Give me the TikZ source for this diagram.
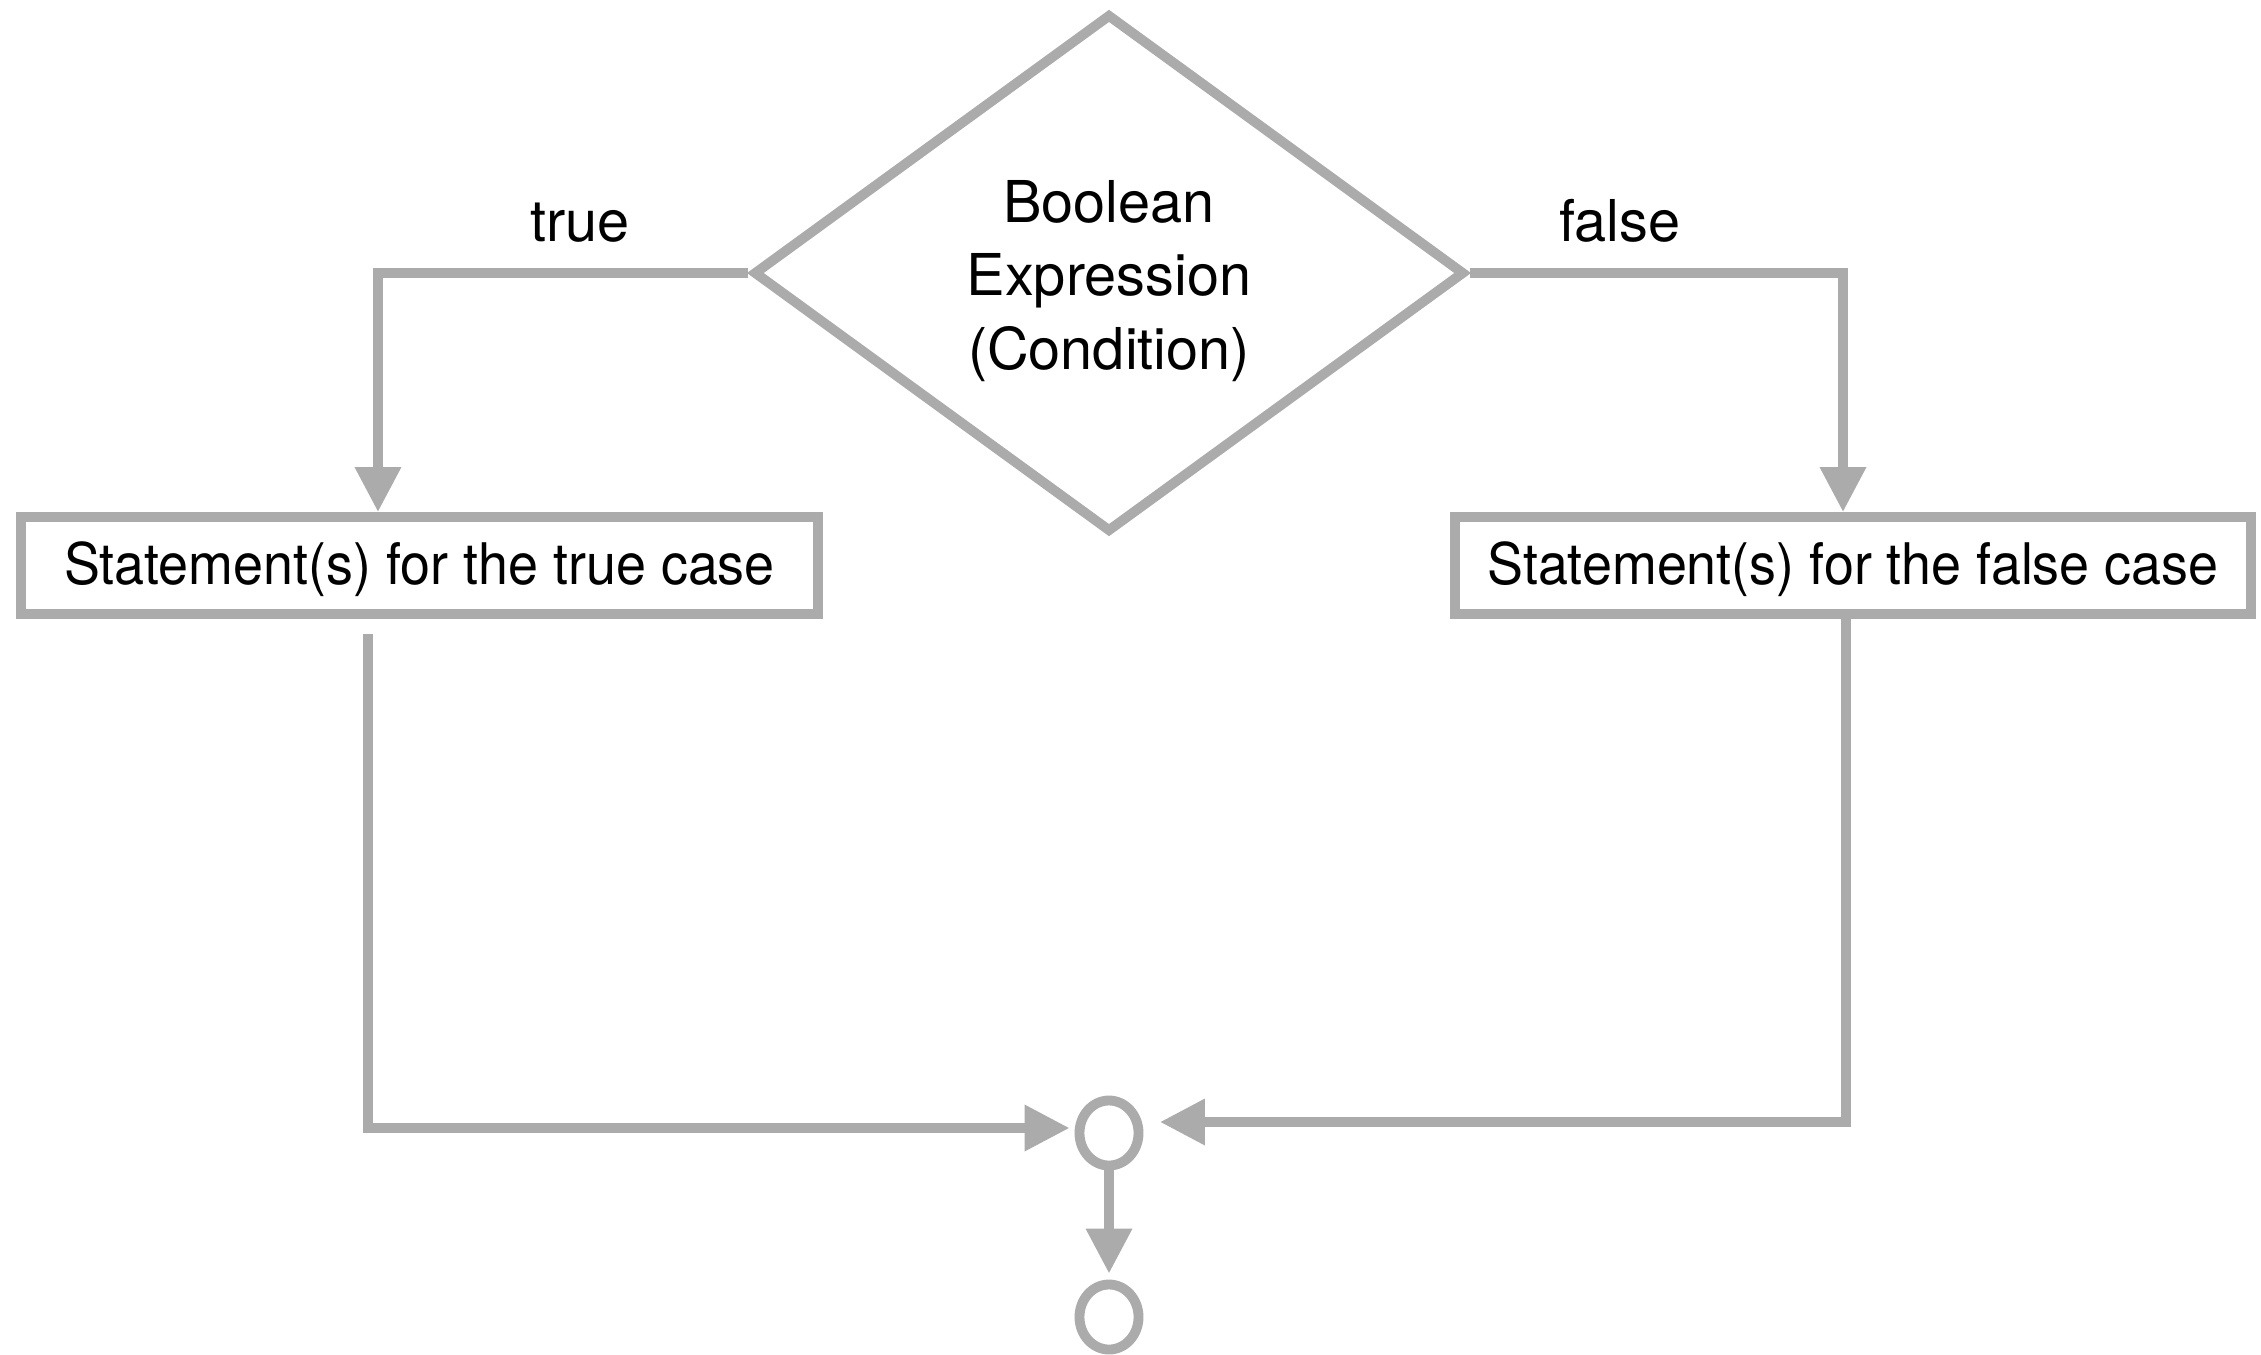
\documentclass[tikz,border=0pt]{standalone}
\usepackage{fontspec}
\setmainfont{TeX Gyre Heros}
\newfontfamily\boxfont[FakeStretch=0.94]{TeX Gyre Heros}
\usetikzlibrary{arrows.meta,shapes.geometric}
\definecolor{flowgray}{HTML}{ABABAB}
\begin{document}
\begin{tikzpicture}[x=0.01cm,y=-0.01cm,
  flowline/.style={draw=flowgray,line width=2.8pt},
  flowarrow/.style={flowline,-{Triangle[length=0.45cm,width=0.44cm,fill=flowgray]}},
  labeltext/.style={font=\fontsize{16.4}{20.9}\selectfont,text=black},
  boxtext/.style={font=\boxfont\fontsize{16.3}{20}\selectfont,text=black,
    text height=11.06pt,text depth=0pt},
  decision/.style={shape=diamond,flowline,minimum width=7.11cm,
    minimum height=5.18cm,inner sep=0pt},
  stmtbox/.style={shape=rectangle,flowline,boxtext,minimum width=7.96cm,
    minimum height=0.97cm,inner sep=0pt},
  junction/.style={shape=ellipse,flowline,minimum width=0.59cm,
    minimum height=0.65cm,inner sep=0pt}]
  \useasboundingbox (0,0) rectangle (2261,1354);

  % decision and its two branches
  \node[decision] (cond) at (1109,273) {};
  \node[labeltext,align=center] (condtext) at (1109,281) {Boolean\\Expression\\(Condition)};
  \node[stmtbox] (tbox) at (419.5,565.5) {Statement(s) for the true case};
  \node[stmtbox] (fbox) at (1853,565.5) {Statement(s) for the false case};

  \node[labeltext,anchor=base] (tlabel) at (580,241.5) {true};
  \node[labeltext,anchor=base] (flabel) at (1620,241.5) {false};

  % merge points
  \node[junction] (join) at (1109,1133) {};
  \node[junction] (exit) at (1109,1317) {};

  % connectors
  \draw[flowarrow] (cond.west) -| ([xshift=-0.415cm]tbox.north);
  \draw[flowarrow] (cond.east) -| ([xshift=-0.10cm]fbox.north);
  \coordinate (tdrop) at ([xshift=-0.515cm,yshift=-0.15cm]tbox.south);
  \draw[flowarrow] (tdrop) |- ([xshift=-0.05cm,yshift=0.05cm]join.west);
  \draw[flowarrow] ([xshift=-0.07cm]fbox.south) |- ([xshift=0.165cm,yshift=0.11cm]join.east);
  \draw[flowarrow] (join.south) -- ([yshift=0.06cm]exit.north);
\end{tikzpicture}
\end{document}
